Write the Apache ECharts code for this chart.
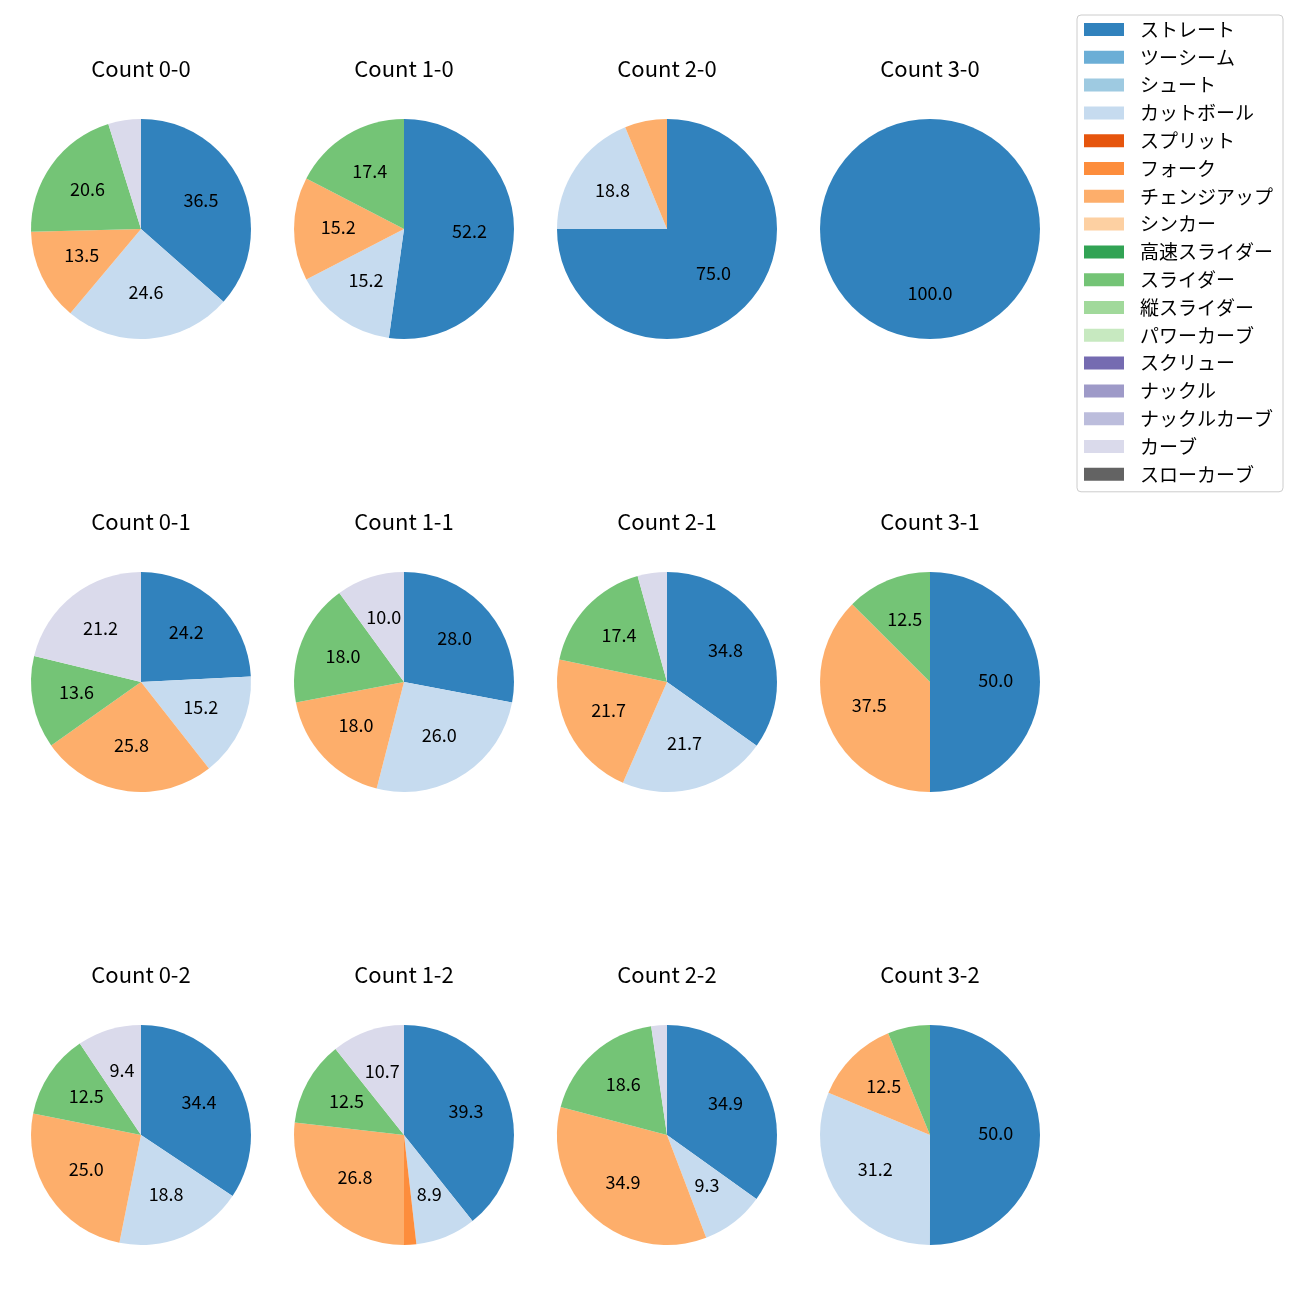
<!DOCTYPE html>
<html>
<head>
<meta charset="utf-8">
<script src="https://cdn.jsdelivr.net/npm/echarts@6/dist/echarts.min.js"></script>
<style>
html,body{margin:0;padding:0;background:#fff;}
#chart{width:1300px;height:1300px;}
</style>
</head>
<body>
<div id="chart"></div>
<script>
// Pitch types (legend order) and their colours
const pitchTypes = ['ストレート','ツーシーム','シュート','カットボール','スプリット','フォーク','チェンジアップ','シンカー','高速スライダー','スライダー','縦スライダー','パワーカーブ','スクリュー','ナックル','ナックルカーブ','カーブ','スローカーブ'];
const pitchColors = ['#3182bd','#6baed6','#9ecae1','#c6dbef','#e6550d','#fd8d3c','#fdae6b','#fdd0a2','#31a354','#74c476','#a1d99b','#c7e9c0','#756bb1','#9e9ac8','#bcbddc','#dadaeb','#636363'];

// Subplot titles (row-major)
const countTitles = ['Count 0-0','Count 1-0','Count 2-0','Count 3-0','Count 0-1','Count 1-1','Count 2-1','Count 3-1','Count 0-2','Count 1-2','Count 2-2','Count 3-2'];

// Percentages per pitch type (aligned with pitchTypes)
//               ストレ ツー シュ カット スプ フォ チェン シン 高速 スラ 縦  パワ スク ナッ ナカ カーブ スロ
const count00 = [36.5, 0, 0, 24.6, 0, 0,   13.5, 0, 0, 20.6, 0, 0, 0, 0, 0, 4.8,  0];
const count10 = [52.2, 0, 0, 15.2, 0, 0,   15.2, 0, 0, 17.4, 0, 0, 0, 0, 0, 0,    0];
const count20 = [75.0, 0, 0, 18.8, 0, 0,   6.2,  0, 0, 0,    0, 0, 0, 0, 0, 0,    0];
const count30 = [100.0,0, 0, 0,    0, 0,   0,    0, 0, 0,    0, 0, 0, 0, 0, 0,    0];
const count01 = [24.2, 0, 0, 15.2, 0, 0,   25.8, 0, 0, 13.6, 0, 0, 0, 0, 0, 21.2, 0];
const count11 = [28.0, 0, 0, 26.0, 0, 0,   18.0, 0, 0, 18.0, 0, 0, 0, 0, 0, 10.0, 0];
const count21 = [34.8, 0, 0, 21.7, 0, 0,   21.7, 0, 0, 17.4, 0, 0, 0, 0, 0, 4.3,  0];
const count31 = [50.0, 0, 0, 0,    0, 0,   37.5, 0, 0, 12.5, 0, 0, 0, 0, 0, 0,    0];
const count02 = [34.4, 0, 0, 18.8, 0, 0,   25.0, 0, 0, 12.5, 0, 0, 0, 0, 0, 9.4,  0];
const count12 = [39.3, 0, 0, 8.9,  0, 1.8, 26.8, 0, 0, 12.5, 0, 0, 0, 0, 0, 10.7, 0];
const count22 = [34.9, 0, 0, 9.3,  0, 0,   34.9, 0, 0, 18.6, 0, 0, 0, 0, 0, 2.3,  0];
const count32 = [50.0, 0, 0, 31.2, 0, 0,   12.5, 0, 0, 6.2,  0, 0, 0, 0, 0, 0,    0];

const allCounts = [count00,count10,count20,count30,count01,count11,count21,count31,count02,count12,count22,count32];

// Layout
const colX = [141, 404, 667, 930];
const rowY = [229, 682, 1135];
const R = 110;
const labelThreshold = 7;
const FONT = '"Noto Sans CJK JP", "Noto Sans", sans-serif';

const series = [];
// legend carrier series (all pitch types, not visible)
series.push({
  type: 'pie', name: 'legend', center: [-300, -300], radius: 1, silent: true,
  label: {show: false}, labelLine: {show: false},
  data: pitchTypes.map((n, i) => ({name: n, value: 1, itemStyle: {color: pitchColors[i]}}))
});

const titles = [];
allCounts.forEach((vals, k) => {
  const cx = colX[k % 4], cy = rowY[Math.floor(k / 4)];
  const data = [];
  vals.forEach((v, i) => { if (v > 0) data.push({name: pitchTypes[i], value: v, itemStyle: {color: pitchColors[i]}}); });
  series.push({
    type: 'pie', center: [cx, cy], radius: [0, R], startAngle: 90, clockwise: true,
    avoidLabelOverlap: false, silent: true,
    itemStyle: {borderWidth: 0},
    label: {show: false}, labelLine: {show: false},
    emphasis: {disabled: true},
    data: data
  });
  // label overlay ring: places labels at ~0.6R
  series.push({
    type: 'pie', center: [cx, cy], radius: [R * 0.14, R], startAngle: 90, clockwise: true,
    avoidLabelOverlap: false, silent: true,
    itemStyle: {color: 'rgba(0,0,0,0)', borderWidth: 0},
    label: {
      show: true, position: 'inside', color: '#000', fontSize: 18, fontFamily: FONT, offset: [0, -2],
      formatter: p => (p.value >= labelThreshold ? p.value.toFixed(1) : '')
    },
    labelLine: {show: false},
    emphasis: {disabled: true},
    data: data.map(d => ({name: d.name, value: d.value}))
  });
  titles.push({
    text: countTitles[k], left: cx, top: cy - 171, textAlign: 'center', padding: 0,
    textStyle: {fontSize: 22, fontWeight: 'normal', color: '#000', fontFamily: FONT}
  });
});

const chart = echarts.init(document.getElementById('chart'), null, {renderer: 'canvas'});
chart.setOption({
  animation: false,
  backgroundColor: '#fff',
  title: titles,
  legend: {
    orient: 'vertical', left: 1077, top: 15,
    data: pitchTypes,
    icon: 'rect', itemWidth: 40, itemHeight: 13, itemGap: 8.8,
    padding: [5, 10, 8, 7],
    backgroundColor: '#fff', borderColor: '#cccccc', borderWidth: 1, borderRadius: 4,
    selectedMode: false,
    textStyle: {fontSize: 19, lineHeight: 18, color: '#000', fontFamily: FONT, padding: [0, 0, 0, 11]}
  },
  series: series
});
</script>
</body>
</html>
